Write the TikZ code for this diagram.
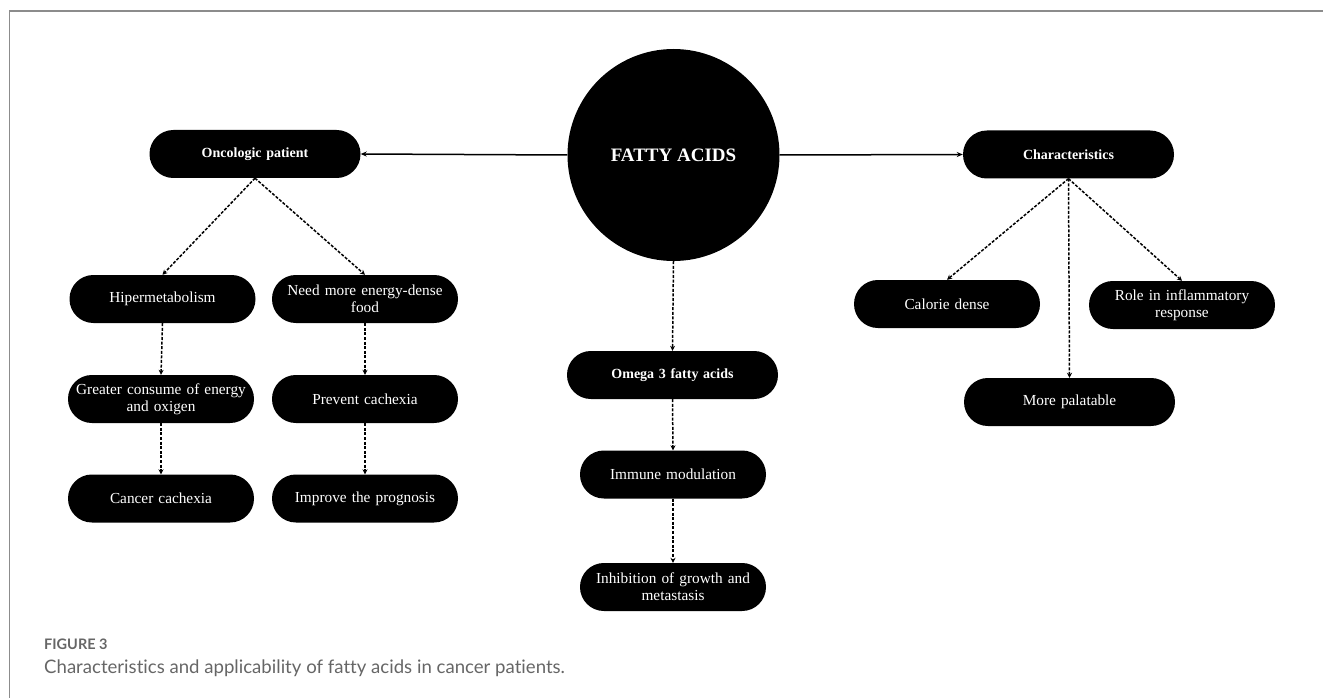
\documentclass[tikz,border=0pt]{standalone}
\usepackage{fontspec}
\setmainfont{Liberation Serif}
\newfontfamily\capfont[Ligatures=NoCommon]{Lato}
\usetikzlibrary{arrows.meta}
\definecolor{framegray}{HTML}{8C8C8C}
\definecolor{capgray}{HTML}{666666}
\begin{document}
\begin{tikzpicture}[x=1pt,y=-1pt,
  pill/.style={fill=black, rounded corners=23.9pt, minimum height=48pt, text=white,
    font=\fontsize{15.3}{17}\selectfont, align=center, inner sep=0pt},
  widepill/.style={pill, minimum width=211pt, text width=200pt},
  narrowpill/.style={pill, minimum width=186pt, text width=182pt},
  hdr/.style={font=\fontsize{14}{16}\selectfont\bfseries},
  solidlink/.style={line width=1.5pt, -{Stealth[length=6pt,width=5pt]}},
  dashlink/.style={line width=1.5pt, dash pattern=on 3pt off 1.6pt, -{Stealth[length=5pt,width=5pt]}}
]
\useasboundingbox (0,0) rectangle (1323,698);
\draw[framegray, line width=1.5pt] (9.5,698) -- (9.5,11) -- (1323,11);

% centre
\node[circle, fill=black, minimum size=212pt, inner sep=0pt, text=white,
  font=\fontsize{19}{22}\selectfont\bfseries] (fa) at (673.5,155) {FATTY ACIDS};

% left branch
\node[widepill, hdr] (onc) at (255,154) {Oncologic patient};
\node[narrowpill] (hip) at (162.5,299) {Hipermetabolism};
\node[narrowpill] (need) at (365,299) {Need more energy-dense\\food};
\node[narrowpill] (great) at (161,399) {Greater consume of energy\\and oxigen};
\node[narrowpill] (prev) at (365,399) {Prevent cachexia};
\node[narrowpill] (canc) at (161,498.5) {Cancer cachexia};
\node[narrowpill] (impr) at (365,498.5) {Improve the prognosis};

% middle branch
\node[widepill, hdr] (omega) at (672.5,375) {Omega 3 fatty acids};
\node[narrowpill] (imm) at (673,474.5) {Immune modulation};
\node[narrowpill] (inh) at (673,587) {Inhibition of growth and\\metastasis};

% right branch
\node[widepill, hdr] (char) at (1068.5,154.5) {Characteristics};
\node[narrowpill] (cal) at (947,304) {Calorie dense};
\node[narrowpill] (role) at (1182,305) {Role in inflammatory\\response};
\node[widepill] (pal) at (1069.5,402) {More palatable};

% connectors
\draw[solidlink] (fa.west) -- (onc.east);
\draw[solidlink] (fa.east) -- (char.west);

\draw[dashlink] (onc.south) -- (hip.north);
\draw[dashlink] (onc.south) -- (need.north);
\draw[dashlink] (hip.south) -- (great.north);
\draw[dashlink] (great.south) -- (canc.north);
\draw[dashlink] (need.south) -- (prev.north);
\draw[dashlink] (prev.south) -- (impr.north);

\draw[dashlink] (fa.south) -- (omega.north);
\draw[dashlink] (omega.south) -- (imm.north);
\draw[dashlink] (imm.south) -- (inh.north);

\draw[dashlink] (char.south) -- (cal.north);
\draw[dashlink] (char.south) -- (pal.north);
\draw[dashlink] (char.south) -- (role.north);

% caption
\node[anchor=base west, inner sep=0pt, text=capgray, font=\capfont\bfseries\fontsize{14.5}{16}\selectfont] (fig) at (44,649) {FIGURE 3};
\node[anchor=base west, inner sep=0pt, text=capgray, font=\capfont\fontsize{18.6}{21}\selectfont] (cap) at (44,673) {Characteristics and applicability of fatty acids in cancer patients.};
\end{tikzpicture}
\end{document}
